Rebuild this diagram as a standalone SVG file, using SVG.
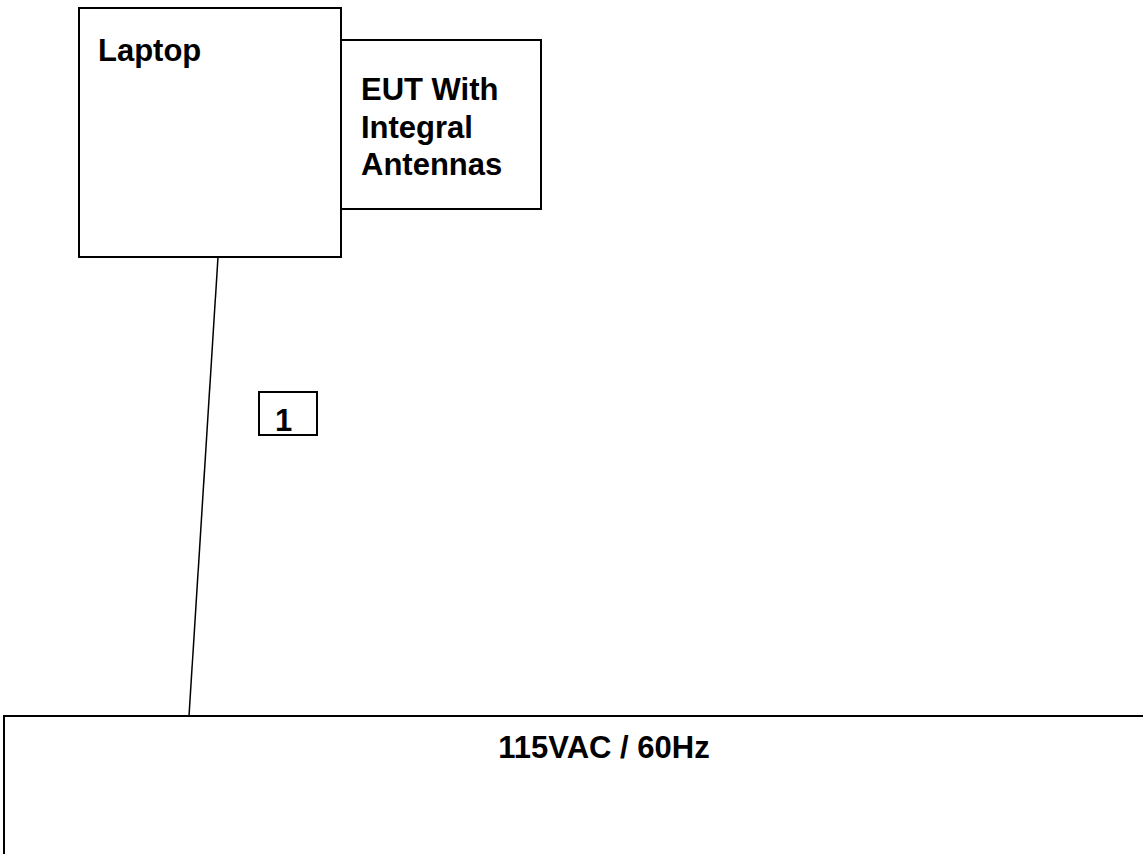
<svg xmlns="http://www.w3.org/2000/svg" width="1143" height="854" viewBox="0 0 1143 854">
<style>
.box{fill:#fff;stroke:#000;stroke-width:2}
.t{font-family:"Liberation Sans",Arial,sans-serif;font-weight:bold;font-size:31px;fill:#000}
.c{stroke:#000;stroke-width:1.5;fill:none}
</style>
<rect width="1143" height="854" fill="#fff"/>
<g id="laptop">
<rect class="box" x="79" y="8" width="262" height="249"/>
<text class="t" x="98" y="61">Laptop</text>
</g>
<g id="eut">
<rect class="box" x="341" y="40" width="200" height="169"/>
<text class="t" x="361" y="100">EUT With</text>
<text class="t" x="361" y="138">Integral</text>
<text class="t" x="361" y="175">Antennas</text>
</g>
<g id="cable-label">
<rect class="box" x="259" y="392" width="58" height="43"/>
<text class="t" x="275" y="431">1</text>
</g>
<g id="power">
<rect class="box" x="4" y="716" width="1160" height="160"/>
<text class="t" x="604" y="758" text-anchor="middle">115VAC / 60Hz</text>
</g>
<g id="connectors">
<line class="c" x1="218" y1="257" x2="189" y2="716"/>
</g>
</svg>
